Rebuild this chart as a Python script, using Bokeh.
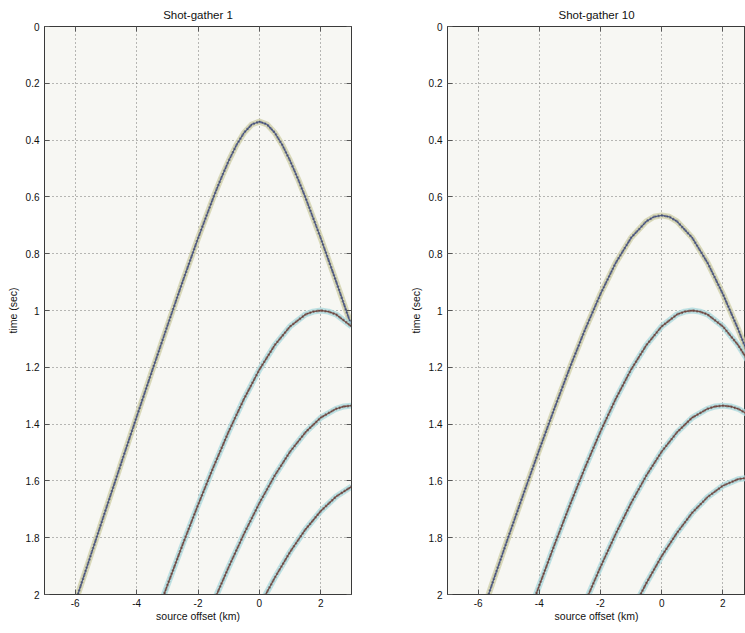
from bokeh.plotting import figure
from bokeh.layouts import row
from bokeh.models import Range1d, FixedTicker, CustomJSTickFormatter, LinearAxis
from bokeh.embed import file_html
from bokeh.resources import INLINE

# ---------------- data ----------------
x_ticks = [-6, -4, -2, 0, 2]
t_ticks = [0, 0.2, 0.4, 0.6, 0.8, 1.0, 1.2, 1.4, 1.6, 1.8, 2.0]
titles = ["Shot-gather 1", "Shot-gather 10"]

# Shot-gather 1 : picked (offset km, time s) along each reflection event
g1_e1_x = [-6.0, -5.5, -5.0, -4.5, -4.0, -3.5, -3.0, -2.5, -2.0, -1.5, -1.25, -1.0, -0.75, -0.5, -0.25,
           0.0, 0.25, 0.5, 0.75, 1.0, 1.25, 1.5, 2.0, 2.5, 3.0]
g1_e1_t = [2.028, 1.864, 1.700, 1.537, 1.375, 1.214, 1.055, 0.898, 0.746, 0.602, 0.535, 0.473, 0.418, 0.374, 0.345,
           0.335, 0.345, 0.374, 0.418, 0.473, 0.535, 0.602, 0.746, 0.898, 1.055]
g1_e2_x = [-3.5, -3.0, -2.5, -2.0, -1.5, -1.0, -0.5, 0.0, 0.5, 1.0, 1.5, 1.75, 2.0, 2.25, 2.5, 3.0]
g1_e2_t = [2.116, 1.968, 1.824, 1.685, 1.552, 1.426, 1.311, 1.208, 1.122, 1.056, 1.014, 1.004, 1.000, 1.004, 1.014, 1.056]
g1_e3_x = [-2.0, -1.5, -1.0, -0.5, 0.0, 0.5, 1.0, 1.5, 2.0, 2.5, 2.75, 3.0]
g1_e3_t = [2.158, 2.027, 1.903, 1.786, 1.678, 1.581, 1.497, 1.429, 1.377, 1.346, 1.338, 1.335]
g1_e4_x = [0.0, 0.5, 1.0, 1.5, 2.0, 2.5, 3.0]
g1_e4_t = [2.041, 1.941, 1.850, 1.771, 1.706, 1.655, 1.620]

# Shot-gather 10
g10_e1_x = [-6.0, -5.5, -5.0, -4.5, -4.0, -3.5, -3.0, -2.5, -2.0, -1.5, -1.0, -0.5, -0.25,
            0.0, 0.25, 0.5, 1.0, 1.5, 2.0, 2.5, 3.0]
g10_e1_t = [2.108, 1.950, 1.794, 1.641, 1.490, 1.343, 1.201, 1.066, 0.942, 0.832, 0.744, 0.686, 0.670,
            0.665, 0.670, 0.686, 0.744, 0.832, 0.942, 1.066, 1.201]
g10_e2_x = [-4.5, -4.0, -3.5, -3.0, -2.5, -2.0, -1.5, -1.0, -0.5, 0.0, 0.5, 0.75, 1.0, 1.25, 1.5, 2.0, 2.5, 3.0]
g10_e2_t = [2.116, 1.968, 1.824, 1.685, 1.552, 1.426, 1.311, 1.208, 1.122, 1.056, 1.014, 1.004, 1.000, 1.004,
            1.014, 1.056, 1.122, 1.208]
g10_e3_x = [-3.0, -2.5, -2.0, -1.5, -1.0, -0.5, 0.0, 0.5, 1.0, 1.5, 1.75, 2.0, 2.25, 2.5, 3.0]
g10_e3_t = [2.158, 2.027, 1.903, 1.786, 1.678, 1.581, 1.497, 1.429, 1.377, 1.346, 1.338, 1.335, 1.338, 1.346, 1.377]
g10_e4_x = [-1.0, -0.5, 0.0, 0.5, 1.0, 1.5, 2.0, 2.5, 2.75, 3.0]
g10_e4_t = [2.063, 1.960, 1.865, 1.783, 1.712, 1.657, 1.617, 1.594, 1.590, 1.590]

gathers = [
    [(g1_e1_x, g1_e1_t), (g1_e2_x, g1_e2_t), (g1_e3_x, g1_e3_t), (g1_e4_x, g1_e4_t)],
    [(g10_e1_x, g10_e1_t), (g10_e2_x, g10_e2_t), (g10_e3_x, g10_e3_t), (g10_e4_x, g10_e4_t)],
]

FONT = "Liberation Sans"
FRAME = "#3a3a3a"


def box_axis(ticks):
    # tick-only axis (MATLAB-style box ticks); labels are not painted
    return LinearAxis(ticker=FixedTicker(ticks=ticks), major_label_text_color=None,
                      major_label_text_font_size="1px", major_label_standoff=0,
                      major_tick_in=5, major_tick_out=0, major_tick_line_color="#555",
                      minor_tick_line_color=None, axis_line_color=FRAME)


def make_fig(title, events, x_end, width, bl, br, box_right):
    p = figure(width=width, height=633, output_backend="svg", toolbar_location=None,
               x_range=Range1d(-7, x_end), y_range=Range1d(2, 0),
               min_border_left=bl, min_border_right=br, min_border_top=26, min_border_bottom=39,
               background_fill_color="#f7f7f3", border_fill_color="white",
               outline_line_color=FRAME, outline_line_width=1)
    p.title.text = title
    p.title.align = "center"
    p.title.text_font = FONT
    p.title.text_font_size = "11.5px"
    p.title.text_font_style = "normal"
    p.title.text_color = "#111"
    p.title.offset = 0
    p.title.standoff = 11

    fx = CustomJSTickFormatter(code="return String(Math.round(tick));")
    fy = CustomJSTickFormatter(code="return String(Math.round(tick*10)/10);")
    p.xaxis.ticker = FixedTicker(ticks=x_ticks)
    p.yaxis.ticker = FixedTicker(ticks=t_ticks)
    p.xaxis.formatter = fx
    p.yaxis.formatter = fy
    p.xaxis.axis_label = "source offset (km)"
    p.yaxis.axis_label = "time (sec)"
    for ax in p.axis:
        ax.axis_label_text_font = FONT
        ax.axis_label_text_font_size = "10.5px"
        ax.axis_label_text_font_style = "normal"
        ax.axis_label_text_color = "#111"
        ax.major_label_text_font = FONT
        ax.major_label_text_font_size = "10px"
        ax.major_label_text_color = "#111"
        ax.major_tick_in = 5
        ax.major_tick_out = 0
        ax.major_tick_line_color = "#555"
        ax.minor_tick_line_color = None
        ax.axis_line_color = FRAME
        ax.major_label_standoff = 5
        ax.axis_label_standoff = 4
    p.xaxis.axis_label_standoff = 0
    p.xaxis.major_label_standoff = 4

    p.add_layout(box_axis(x_ticks), "above")
    if box_right:
        p.add_layout(box_axis(t_ticks), "right")

    p.grid.grid_line_color = "#666666"
    p.grid.grid_line_dash = "1 3"
    p.grid.grid_line_alpha = 0.9
    p.xgrid.ticker = FixedTicker(ticks=x_ticks)
    p.ygrid.ticker = FixedTicker(ticks=t_ticks)

    for i, (xs, ts) in enumerate(events):
        if i == 0:
            halo, core = "#cfcfa6", "#44538f"
        else:
            halo, core = "#a9d9dd", "#7a4238"
        p.line(xs, ts, line_width=6, line_color=halo, line_alpha=0.75, line_join="round")
        p.line(xs, ts, line_width=3, line_color="#9a9a9a", line_alpha=0.8, line_dash="2 2", line_join="round")
        p.line(xs, ts, line_width=1.3, line_color=core, line_alpha=0.9, line_join="round")
        p.line(xs, ts, line_width=2.2, line_color="#333333", line_alpha=0.45, line_dash="1 2", line_join="round")
    return p


p1 = make_fig(titles[0], gathers[0], 3.0, 372, 44, 21, True)
p2 = make_fig(titles[1], gathers[1], 2.74, 373, 75, 0, False)
p = row(p1, p2)

open("out.html", "w").write(file_html(p, INLINE))
